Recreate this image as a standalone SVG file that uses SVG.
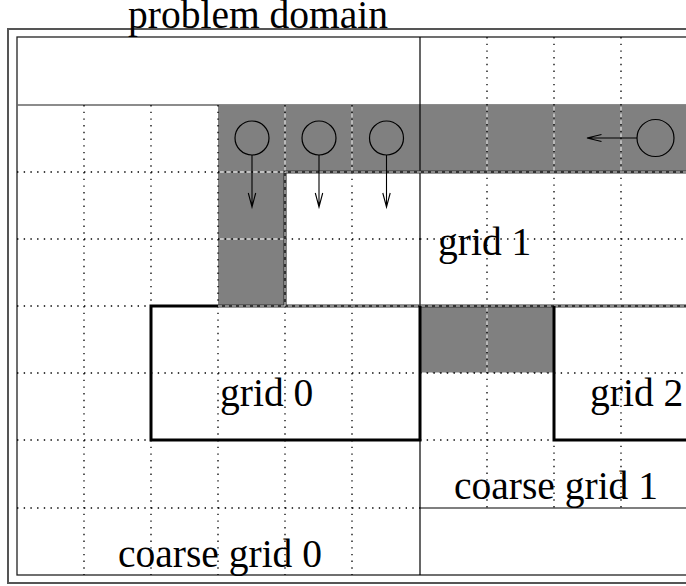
<svg xmlns="http://www.w3.org/2000/svg" width="686" height="586" viewBox="0 0 686 586">
<style>
.lbl{font-family:"Liberation Serif","Times New Roman",serif;font-size:39.5px;fill:#000}
.dot{stroke:#000;stroke-width:1.3;stroke-dasharray:1.4 5.3;fill:none}
.lite{stroke:#d8d8d8;stroke-width:1.3;stroke-dasharray:4 2.7;stroke-dashoffset:-1.8;fill:none}
.shade{fill:#808080;stroke:none}
.thick{stroke:#000;stroke-width:3;fill:none}
.bd{stroke:#333;stroke-width:3.2;fill:none}
.bdw{stroke:#e0e0e0;stroke-width:1;stroke-dasharray:4 3;fill:none}
.thin{stroke:#000;stroke-width:1.2;fill:none}
.circ{stroke:#000;stroke-width:1.2;fill:none}
.arr{stroke:#000;stroke-width:1.1;fill:none}
</style>
<defs>
<clipPath id="shadeclip">
<rect x="218" y="105" width="480" height="67"/>
<rect x="218" y="172" width="67" height="134"/>
<rect x="420" y="306" width="134" height="67"/>
</clipPath>
</defs>
<rect x="0" y="0" width="686" height="586" fill="#fff"/>

<g id="frame">
<rect x="8" y="29" width="700" height="554" fill="none" stroke="#555" stroke-width="2"/>
<rect x="17" y="37" width="690" height="538" fill="none" stroke="#222" stroke-width="1.3"/>
<line x1="17" y1="105" x2="690" y2="105" stroke="#666" stroke-width="1.5"/>
</g>

<g id="ghost-cells">
<rect class="shade" x="218" y="105" width="480" height="67"/>
<rect class="shade" x="218" y="172" width="67" height="134"/>
<rect class="shade" x="420" y="306" width="134" height="67"/>
</g>

<g id="grid-lines">
<g clip-path="url(#shadeclip)">
<path class="lite" d="M285,105V306M352,105V306M487,105V373M554,105V373M621,105V172M218,172H690M218,239H285M218,306H690M420,373H554"/>
</g>
<path class="dot" d="M84,105V575M151,105V575M218,105V575M285,105V575M352,105V575"/>
<path class="dot" d="M487,37V508M554,37V508M621,37V508"/>
<path class="dot" d="M17,172H420M17,239H420M17,306H420M17,373H420M17,440H420M17,508H420"/>
<path class="dot" d="M420,172H690M420,239H690M420,306H690M420,373H690M420,440H690"/>
<line class="thin" x1="420" y1="37" x2="420" y2="575"/>
<line class="thin" x1="420" y1="508" x2="690" y2="508"/>
</g>

<g id="grid1">
<path class="bd" d="M285,306V172H690M218,306H690"/>
<path class="bdw" d="M285,306V172H690M218,306H690"/>
<text class="lbl" x="438" y="255">grid 1</text>
</g>

<g id="grid0">
<path class="thick" d="M218,306H151V440H420V306"/>
<text class="lbl" x="220" y="406">grid 0</text>
</g>

<g id="grid2">
<path class="thick" d="M554,306V440H690"/>
<text class="lbl" x="590" y="406">grid 2</text>
</g>

<g id="labels">
<text class="lbl" x="128" y="28">problem domain</text>
<text class="lbl" x="454" y="499">coarse grid 1</text>
<text class="lbl" x="118" y="567">coarse grid 0</text>
</g>

<g id="particles">
<circle class="circ" cx="252" cy="138" r="17"/>
<circle class="circ" cx="319" cy="138" r="17"/>
<circle class="circ" cx="386.5" cy="138" r="17"/>
<circle class="circ" cx="655.5" cy="138" r="18.5"/>
</g>

<g id="connectors">
<path class="arr" d="M252,155V207M248.3,193L252,207L255.7,193"/>
<path class="arr" d="M319,155V207M315.3,193L319,207L322.7,193"/>
<path class="arr" d="M386.5,155V207M382.8,193L386.5,207L390.2,193"/>
<path class="arr" d="M637,138H587M601.5,134.5L587,138L601.5,141.5"/>
</g>
</svg>
